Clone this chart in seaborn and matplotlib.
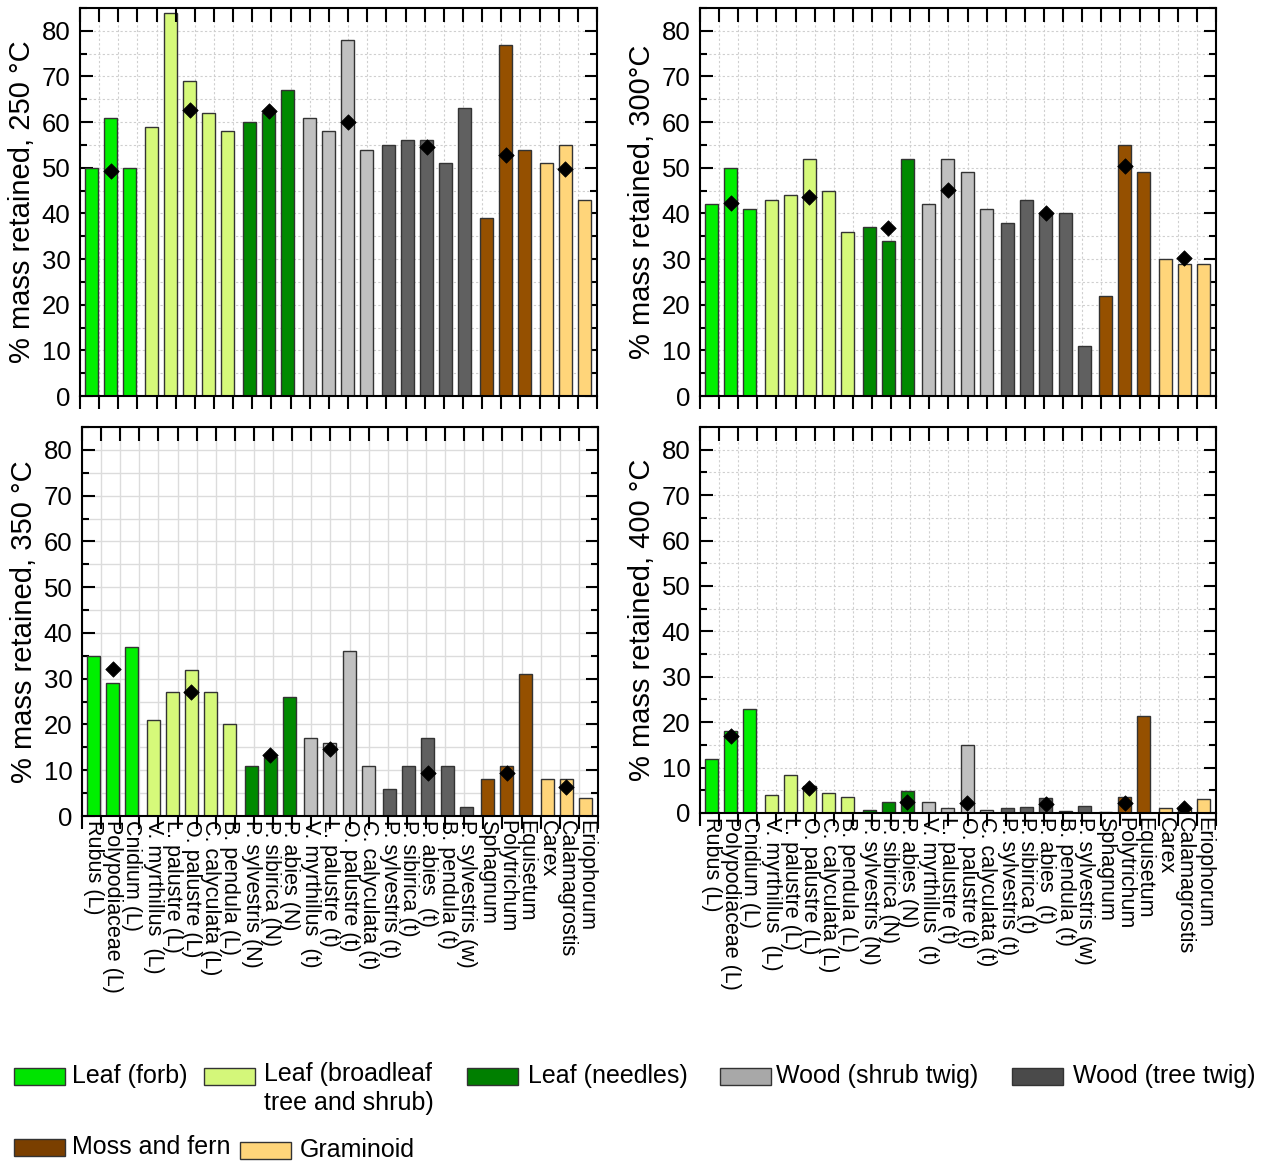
import numpy as np
import pandas as pd
import matplotlib
matplotlib.use('Agg')
import matplotlib.pyplot as plt
import seaborn as sns
from matplotlib.patches import Rectangle
from matplotlib.ticker import MultipleLocator

sns.set_style('white')
plt.rcParams['font.family'] = ['Liberation Sans', 'DejaVu Sans']
plt.rcParams['text.color'] = 'black'
plt.rcParams['axes.labelcolor'] = 'black'
plt.rcParams['xtick.color'] = 'black'
plt.rcParams['ytick.color'] = 'black'

# 物种与分组
species = ['Rubus (L)', 'Polypodiaceae (L)', 'Cnidium (L)',
           'V. myrthillus  (L)', 'L. palustre (L)', 'O. palustre (L)', 'C. calyculata (L)', 'B. pendula (L)',
           'P. sylvestris (N)', 'P. sibirica (N)', 'P. abies (N)',
           'V. myrthillus  (t)', 'L. palustre (t)', 'O. palustre (t)', 'C. calyculata (t)',
           'P. sylvestris (t)', 'P. sibirica (t)', 'P. abies  (t)', 'B. pendula (t)', 'P. sylvestris (w)',
           'Sphagnum', 'Polytrichum', 'Equisetum',
           'Carex', 'Calamagrostis', 'Eriophorum']
group_idx = [0, 0, 0, 1, 1, 1, 1, 1, 2, 2, 2, 3, 3, 3, 3, 4, 4, 4, 4, 4, 5, 5, 5, 6, 6, 6]
group_names = ['Leaf (forb)', 'Leaf (broadleaf\ntree and shrub)', 'Leaf (needles)',
               'Wood (shrub twig)', 'Wood (tree twig)', 'Moss and fern', 'Graminoid']
bar_colors = ['#00f000', '#d6f97a', '#008a00', '#c0c0c0', '#606060', '#955000', '#ffd57a']
legend_colors = ['#00e400', '#d4f77a', '#007f00', '#a8a8a8', '#4a4a4a', '#7a3f00', '#ffd57a']

# 各温度下的质量保留率
mass_250 = [50, 61, 50, 59, 84, 69, 62, 58, 60, 62, 67, 61, 58, 78, 54, 55, 56, 56, 51, 63, 39, 77, 54, 51, 55, 43]
mass_300 = [42, 50, 41, 43, 44, 52, 45, 36, 37, 34, 52, 42, 52, 49, 41, 38, 43, 40, 40, 11, 22, 55, 49, 30, 29, 29]
mass_350 = [35, 29, 37, 21, 27, 32, 27, 20, 11, 13, 26, 17, 16, 36, 11, 6, 11, 17, 11, 2, 8, 11, 31, 8, 8, 4]
mass_400 = [12, 18, 23, 4, 8.3, 6, 4.3, 3.5, 0.6, 2.4, 4.9, 2.5, 1.0, 15, 0.7, 1.2, 1.3, 3.4, 0.4, 1.5,
            0.2, 3.6, 21.4, 1.1, 0.9, 3.0]

# 菱形标记（其他来源数据）
dia_250_names = ['Polypodiaceae (L)', 'O. palustre (L)', 'P. sibirica (N)', 'O. palustre (t)',
                 'P. abies  (t)', 'Polytrichum', 'Calamagrostis']
dia_250 = [49.3, 62.7, 62.5, 60.0, 54.5, 52.8, 49.8]
dia_300_names = ['Polypodiaceae (L)', 'O. palustre (L)', 'P. sibirica (N)', 'L. palustre (t)',
                 'P. abies  (t)', 'Polytrichum', 'Calamagrostis']
dia_300 = [42.3, 43.7, 36.8, 45.1, 40.1, 50.3, 30.2]
dia_350_names = ['Polypodiaceae (L)', 'O. palustre (L)', 'P. sibirica (N)', 'L. palustre (t)',
                 'P. abies  (t)', 'Polytrichum', 'Calamagrostis']
dia_350 = [32.2, 27.2, 13.4, 14.6, 9.3, 9.3, 6.4]
dia_400_names = ['Polypodiaceae (L)', 'O. palustre (L)', 'P. abies (N)', 'O. palustre (t)',
                 'P. abies  (t)', 'Polytrichum', 'Calamagrostis']
dia_400 = [17.0, 5.4, 2.5, 2.1, 2.0, 2.1, 1.1]

# 组间留有小间隔
positions = [i + 0.125 * g + 0.6 for i, g in enumerate(group_idx)]
pos_of = dict(zip(species, positions))

W, H = 1275, 1164
fig = plt.figure(figsize=(W / 100, H / 100), dpi=100)

panels = [
    (mass_250, dia_250_names, dia_250, '% mass retained, 250 °C', (80, 8, 597, 396), False, 'dotted'),
    (mass_300, dia_300_names, dia_300, '% mass retained, 300°C', (700, 8, 1216, 396), False, 'dotted'),
    (mass_350, dia_350_names, dia_350, '% mass retained, 350 °C', (82, 427, 598, 816), True, 'solid'),
    (mass_400, dia_400_names, dia_400, '% mass retained, 400 °C', (700, 427, 1216, 813), True, 'dotted'),
]

for vals, dnames, dvals, ylabel, (x0, y0, x1, y1), bottom, gstyle in panels:
    ax = fig.add_axes([x0 / W, 1 - y1 / H, (x1 - x0) / W, (y1 - y0) / H])
    df = pd.DataFrame({'pos': positions, 'value': vals,
                       'group': [group_names[g] for g in group_idx]})
    sns.barplot(data=df, x='pos', y='value', hue='group', hue_order=group_names,
                palette=dict(zip(group_names, bar_colors)), saturation=1, native_scale=True,
                dodge=False, width=0.68, edgecolor='#333333', linewidth=1.0, errorbar=None,
                legend=False, ax=ax, zorder=2)
    sns.scatterplot(x=[pos_of[n] for n in dnames], y=dvals, marker='D', s=62, color='black',
                    edgecolor='black', linewidth=0.5, ax=ax, zorder=4, legend=False)

    ax.set_xlim(0, 27)
    ax.set_ylim(0, 85)
    ax.set_axisbelow(True)
    ax.set_xlabel('')

    # 均匀的刻度线 + 柱子位置的标签
    ax.set_xticks(np.arange(0, 28))
    ax.set_xticklabels([])
    ax.set_xticks(positions, minor=True)
    if bottom:
        ax.set_xticklabels(species, minor=True, rotation=-90, fontsize=15.5, va='top', ha='center')
    else:
        ax.set_xticklabels([], minor=True)
    ax.tick_params(axis='x', which='major', direction='out', length=9, width=1.5, top=False)
    ax.tick_params(axis='x', which='minor', length=0, pad=3)

    # 顶部朝内的刻度
    top = ax.twiny()
    top.set_xlim(0, 27)
    top.set_xticks(np.arange(0, 28))
    top.set_xticklabels([])
    top.tick_params(axis='x', which='major', direction='in', length=10, width=1.5,
                    top=True, bottom=False, color='black')
    for sp in top.spines.values():
        sp.set_visible(False)
    top.grid(False)

    ax.set_yticks(np.arange(0, 81, 10))
    ax.yaxis.set_minor_locator(MultipleLocator(5))
    ax.tick_params(axis='y', which='both', direction='in', left=True, right=True, width=1.5)
    ax.tick_params(axis='y', which='major', length=9, labelsize=18.5, pad=7)
    ax.tick_params(axis='y', which='minor', length=5)
    ax.set_ylabel(ylabel, fontsize=21, labelpad=4)

    if gstyle == 'solid':
        gkw = dict(color='#dcdcdc', linestyle='-', linewidth=1.0)
    else:
        gkw = dict(color='#cfcfcf', linestyle=(0, (2, 2)), linewidth=0.8)
    ax.grid(True, axis='x', which='major', **gkw)
    ax.grid(True, axis='y', which='both', **gkw)

    for sp in ax.spines.values():
        sp.set_linewidth(1.5)
        sp.set_color('black')


# 手动图例
def add_item(px, py, color, label, tx, multiline=False):
    fig.add_artist(Rectangle((px / W, 1 - (py + 8.5) / H), 51 / W, 17 / H,
                             transform=fig.transFigure, facecolor=color,
                             edgecolor='#333333', linewidth=1.0))
    if multiline:
        fig.text(tx / W, 1 - (py - 14) / H, label, fontsize=18, va='top', ha='left',
                 linespacing=1.25)
    else:
        fig.text(tx / W, 1 - py / H, label, fontsize=18, va='center', ha='left')


add_item(14, 1076, legend_colors[0], group_names[0], 72)
add_item(204, 1076, legend_colors[1], 'Leaf (broadleaf\ntree and shrub)', 264, multiline=True)
add_item(467, 1076, legend_colors[2], group_names[2], 528)
add_item(720, 1076, legend_colors[3], group_names[3], 776)
add_item(1012, 1076, legend_colors[4], group_names[4], 1073)
add_item(14, 1147, legend_colors[5], group_names[5], 72)
add_item(240, 1150, legend_colors[6], group_names[6], 300)

fig.savefig('out.png', dpi=100)
